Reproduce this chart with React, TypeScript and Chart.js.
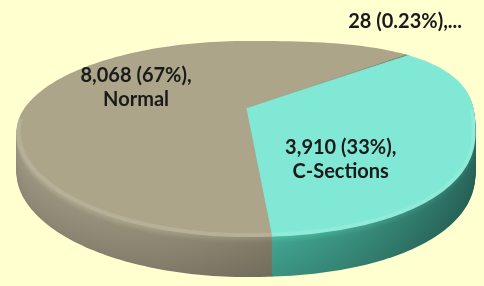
import { useEffect, useRef } from "react";
import { Chart, registerables } from "chart.js";

Chart.register(...registerables);

// ---- data ----
const categories = ["...", "C-Sections", "Normal"];
const deliveries = [28, 3910, 8068];

// ---- style ----
const BG = "#FFFFD0";
const TOP_COLORS = ["#6C7E69", "#80E8D4", "#ACA589"];
const SIDE_STOPS: [number, string][][] = [
  [[0, "#4f5f4c"], [1, "#4f5f4c"]],
  [[0, "#48b09b"], [0.55, "#42a491"], [0.75, "#388c7b"], [1, "#2a685c"]],
  [[0, "#9c9681"], [0.3, "#918b76"], [0.55, "#7f7965"], [1, "#7b7561"]],
];
const W = 484;
const H = 286;
const RX = 229.5;
const RY_TOP = 91;
const RY_BOT = 105;
const N_UR = 2.8;
const N_UL = 2.0;
const N_LR = 2.2;
const N_LL = 2.0;
const DEPTH = 40;
const APEX_UP = 24;
const TILT = 0.5;
const PIE_R = 320;
const FONT_SIZE = 20;
const LINE_H = 24;
const LABEL_LAYOUT = [
  { dA: -14.2, r: 236 },
  { dA: 21.4, r: 139 },
  { dA: -3.9, r: 118 },
];

function shade(hex: string, f: number) {
  const n = parseInt(hex.slice(1), 16);
  const c = [(n >> 16) & 255, (n >> 8) & 255, n & 255].map((v) =>
    Math.max(0, Math.min(255, Math.round(v * f)))
  );
  return `rgb(${c[0]},${c[1]},${c[2]})`;
}

function outline(ctx: CanvasRenderingContext2D, cx: number, cy: number, t0 = 0, t1 = Math.PI * 2, close = true) {
  ctx.beginPath();
  const steps = 260;
  for (let k = 0; k <= steps; k++) {
    const t = t0 + ((t1 - t0) * k) / steps;
    const c = Math.cos(t);
    const s = Math.sin(t);
    const lower = s >= 0;
    const right = c >= 0;
    const n = lower ? (right ? N_LR : N_LL) : right ? N_UR : N_UL;
    const ry = lower ? RY_BOT : RY_TOP;
    const x = cx + RX * Math.sign(c) * Math.pow(Math.abs(c), 2 / n);
    const y = cy + ry * Math.sign(s) * Math.pow(Math.abs(s), 2 / n);
    if (k === 0) ctx.moveTo(x, y);
    else ctx.lineTo(x, y);
  }
  if (close) ctx.closePath();
}

const pie3d = {
  id: "pie3d",
  beforeDatasetsDraw(chart: any) {
    const { ctx, chartArea } = chart;
    const cx = (chartArea.left + chartArea.right) / 2;
    const cy = (chartArea.top + chartArea.bottom) / 2;
    const ax = cx;
    const ay = cy - APEX_UP;
    const meta = chart.getDatasetMeta(0);
    const setT = (d: number) => {
      ctx.translate(ax, ay + d);
      ctx.scale(1, TILT);
      ctx.translate(-cx, -cy);
    };
    for (let d = DEPTH; d >= 1; d--) {
      ctx.save();
      outline(ctx, cx, cy + d);
      ctx.clip();
      setT(d);
      const f =
        d < 7 ? 1.16 - 0.16 * (d / 7) : 1 - 0.1 * ((d - 7) / (DEPTH - 7));
      meta.data.forEach((arc: any, i: number) => {
        const g = ctx.createLinearGradient(cx - RX, 0, cx + RX, 0);
        SIDE_STOPS[i].forEach(([t, c]) => g.addColorStop(t, shade(c, f)));
        const orig = arc.options;
        arc.options = { ...orig, backgroundColor: g, borderColor: g, borderWidth: 1 };
        arc.draw(ctx);
        arc.options = orig;
      });
      ctx.restore();
    }
    ctx.save();
    outline(ctx, cx, cy);
    ctx.clip();
    setT(0);
  },
  afterDatasetsDraw(chart: any) {
    const { ctx, chartArea } = chart;
    ctx.restore();
    const cx = (chartArea.left + chartArea.right) / 2;
    const cy = (chartArea.top + chartArea.bottom) / 2;
    const ax = cx;
    const ay = cy - APEX_UP;

    // bevel highlight along the near rim
    ctx.save();
    outline(ctx, cx, cy);
    ctx.clip();
    ctx.lineWidth = 8;
    ctx.strokeStyle = "rgba(255,255,255,0.13)";
    outline(ctx, cx, cy, -0.15, Math.PI + 0.15, false);
    ctx.stroke();
    ctx.restore();

    // labels
    const meta = chart.getDatasetMeta(0);
    const data = chart.data.datasets[0].data as number[];
    const total = data.reduce((a, b) => a + b, 0);
    ctx.save();
    ctx.font = `bold ${FONT_SIZE}px Lato`;
    ctx.fillStyle = "#1A1A1A";
    ctx.textAlign = "center";
    ctx.textBaseline = "alphabetic";
    meta.data.forEach((arc: any, i: number) => {
      const v = data[i];
      const pct = ((v / total) * 100).toPrecision(2) + "%";
      const vs = v.toLocaleString("en-US");
      const name = chart.data.labels[i] as string;
      const lines =
        name === "..." ? [`${vs} (${pct}),${name}`] : [`${vs} (${pct}),`, name];
      const mid = (arc.startAngle + arc.endAngle) / 2;
      const lay = LABEL_LAYOUT[i];
      const a = mid + (lay.dA * Math.PI) / 180;
      const lx = ax + Math.cos(a) * lay.r;
      const ly = ay + Math.sin(a) * lay.r * TILT;
      lines.forEach((t, j) => {
        const capC = ly + (j - (lines.length - 1) / 2) * LINE_H;
        ctx.fillText(t, lx, capC + FONT_SIZE * 0.36);
      });
    });
    ctx.restore();
  },
};

export default function App() {
  const ref = useRef<HTMLCanvasElement | null>(null);
  useEffect(() => {
    if (!ref.current) return;
    const total = deliveries.reduce((a, b) => a + b, 0);
    const startDeg = 25.225 - ((deliveries[0] + deliveries[1]) / total) * 180;
    const chart = new Chart(ref.current, {
      type: "pie",
      data: {
        labels: categories,
        datasets: [
          {
            data: deliveries,
            backgroundColor: TOP_COLORS,
            borderColor: TOP_COLORS,
            borderWidth: 1,
            radius: PIE_R,
            clip: false,
          } as any,
        ],
      },
      options: {
        animation: false,
        responsive: true,
        maintainAspectRatio: false,
        rotation: startDeg + 90,
        layout: { padding: { left: 8, right: 0, top: 0, bottom: 22 } },
        plugins: {
          legend: { display: false },
          tooltip: { enabled: false },
        },
      },
      plugins: [pie3d],
    });
    return () => chart.destroy();
  }, []);
  return (
    <div
      style={{
        position: "fixed",
        left: 0,
        top: 0,
        width: W,
        height: H,
        background: BG,
      }}
    >
      <canvas ref={ref} width={W} height={H} />
    </div>
  );
}
